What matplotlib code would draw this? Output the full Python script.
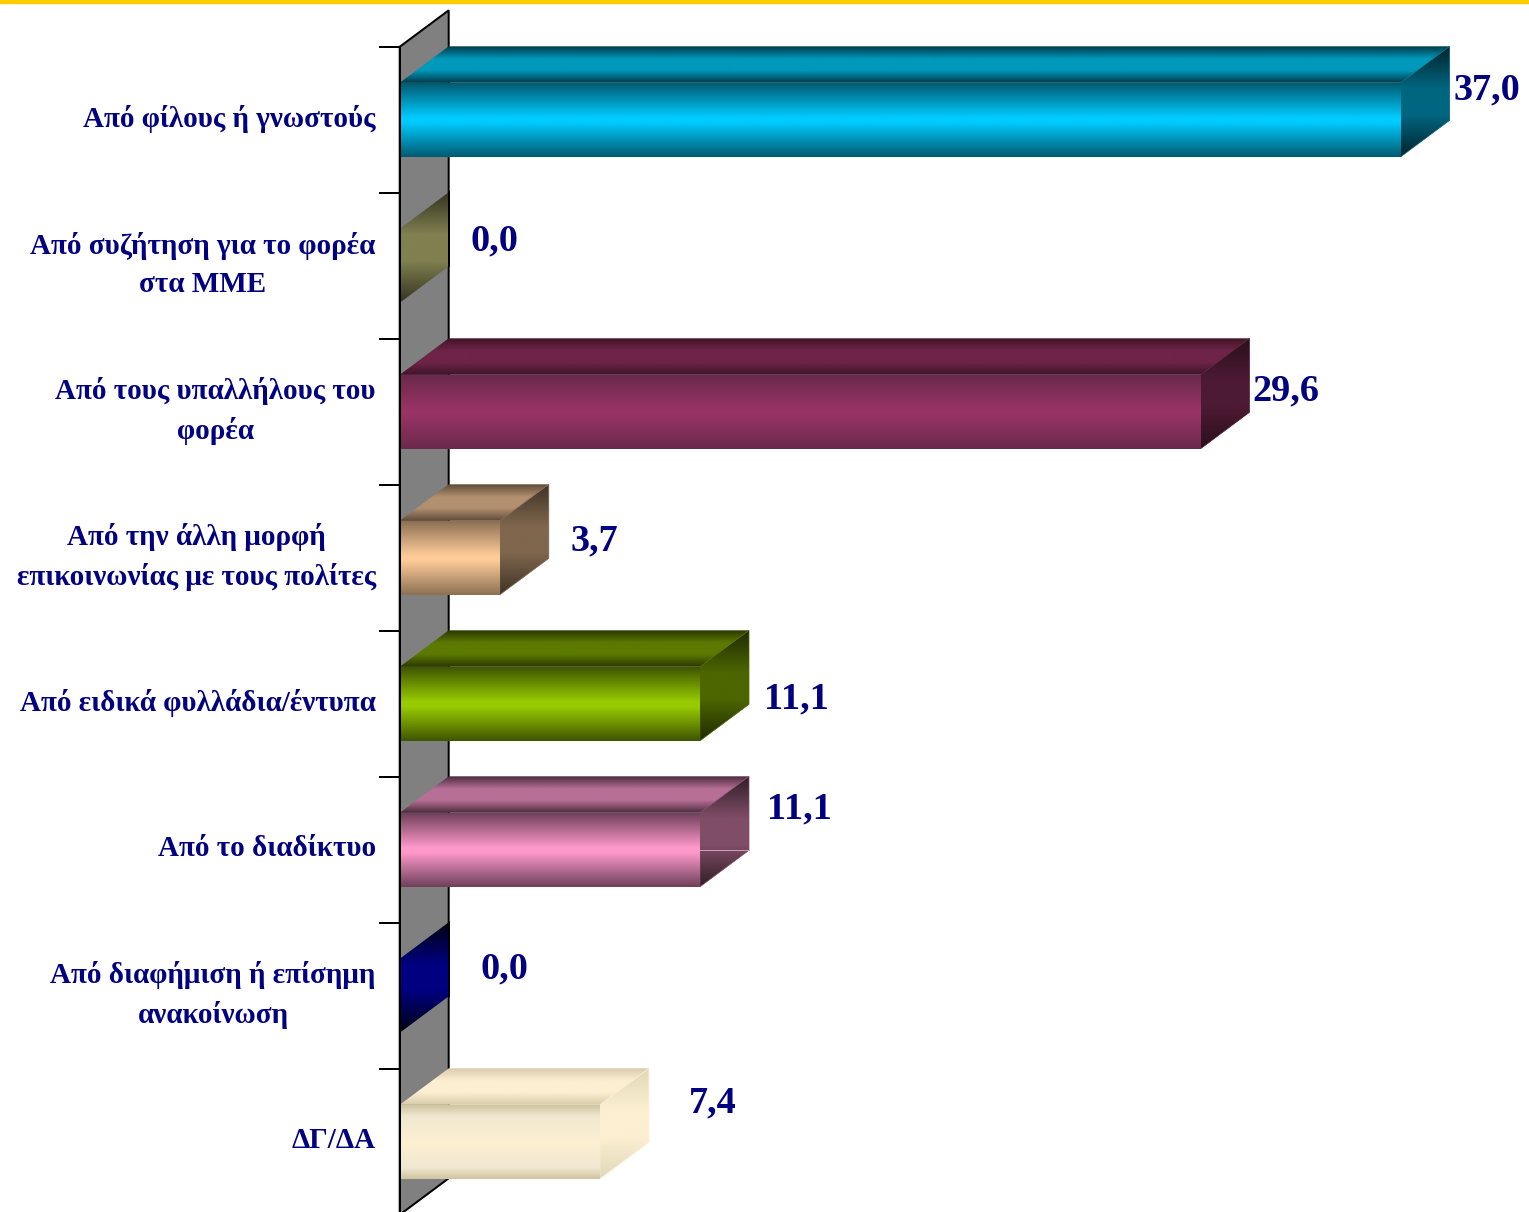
import numpy as np
import matplotlib
matplotlib.use("Agg")
import matplotlib.pyplot as plt
from matplotlib.colors import LinearSegmentedColormap
from matplotlib.patches import Polygon, Rectangle

labels = ["Από φίλους ή γνωστούς",
          "Από συζήτηση για το φορέα\nστα ΜΜΕ",
          "Από τους υπαλλήλους του\nφορέα",
          "Από την άλλη μορφή\nεπικοινωνίας με τους πολίτες",
          "Από ειδικά φυλλάδια/έντυπα",
          "Από το διαδίκτυο",
          "Από διαφήμιση ή επίσημη\nανακοίνωση",
          "ΔΓ/ΔΑ"]
values = [37.0, 0.0, 29.6, 3.7, 11.1, 11.1, 0.0, 7.4]

# (center, edge) colours of the gradient on each face
front_colors = [("#00ccff", "#005a70"), ("#808050", "#333320"), ("#993366", "#6a2a4c"),
                ("#ffcc99", "#8c7053"), ("#99cc00", "#3f5500"), ("#ff99cc", "#6e4059"),
                ("#000080", "#000010"), ("#fdefd2", "#cfc4a0", "#efe8d0")]
top_colors = [("#0099bb", "#003a48"), ("#808050", "#333320"), ("#6e2448", "#3f1428"),
              ("#b29070", "#5e4a38"), ("#5c7a00", "#2a3800"), ("#b86f96", "#4a2b3c"),
              ("#000080", "#000010"), ("#fdefd2", "#d8ccaa")]
side_colors = [("#006680", "#00222b"), ("#808050", "#333320"), ("#4d1a33", "#2a0f1c"),
               ("#7f664d", "#3f3327"), ("#4d6600", "#1f2a00"), ("#804d66", "#301d27"),
               ("#000080", "#000010"), ("#fdefd2", "#e0d8b8")]

# value label offsets from the bar end, in pixels
label_dx = [86.5, 95, 85, 95, 96, 99, 105, 113]
label_dy = [29.8, 24.8, 20.8, 16.8, 4.8, 40.8, 26.8, 38.8]

W, H = 1529, 1212
navy = "#000080"
x0, y0 = 399.7, 119.8   # pixel position of value 0 and of the first row
px_x = 1001 / 37.0      # pixels per unit
px_y = 146.0            # pixels per row
depth_x = 49 / px_x
depth_y = 36.5 / px_y
bar_h = 74 / px_y
pt = 72 / 100

plt.rcParams["font.family"] = ["Liberation Serif", "DejaVu Serif"]
fig = plt.figure(figsize=(W / 100, H / 100), dpi=100)
ax = fig.add_axes([0, 0, 1, 1])
ax.patch.set_alpha(0)


def face(points, colors, zorder, flat=0.0):
    center, edge = colors[0], colors[1]
    if len(colors) == 3:
        # cream bar: fast ramp at the rims then a slow one
        nodes = [(0, edge), (0.15, colors[2]), (0.5, center), (0.85, colors[2]), (1, edge)]
    elif flat > 0:
        nodes = [(0, edge), (0.5 - flat, center), (0.5 + flat, center), (1, edge)]
    else:
        nodes = [(0, edge), (0.5, center), (1, edge)]
    cmap = LinearSegmentedColormap.from_list("f", nodes)
    xs = [p[0] for p in points]
    ys = [p[1] for p in points]
    grad = np.linspace(0, 1, 256).reshape(-1, 1)
    im = ax.imshow(grad, cmap=cmap, aspect="auto", interpolation="bilinear", zorder=zorder,
                   extent=(min(xs), max(xs), max(ys), min(ys)))
    im.set_clip_path(Polygon(points, transform=ax.transData))


n = len(values)
wall = [(0, -0.5), (depth_x, -0.5 - depth_y), (depth_x, n - 0.5 - depth_y), (0, n - 0.5)]
ax.add_patch(Polygon(wall, closed=True, facecolor="#808080", edgecolor="black", linewidth=2 * pt, zorder=1))

for i, v in enumerate(values):
    t, b = i - bar_h / 2, i + bar_h / 2
    side = [(v, t), (v + depth_x, t - depth_y), (v + depth_x, b - depth_y), (v, b)]
    face(side, side_colors[i], 2, flat=0.12)
    if v > 0:
        face([(0, t), (v, t), (v, b), (0, b)], front_colors[i], 3, flat=0.03)
        face([(0, t), (depth_x, t - depth_y), (v + depth_x, t - depth_y), (v, t)], top_colors[i], 2, flat=0.15)
        ax.add_patch(Polygon(side, closed=True, fill=False, edgecolor=side_colors[i][0], linewidth=0.7 * pt, zorder=2.5))
    else:
        # the wall edge stays visible next to an empty bar
        ax.plot([depth_x, depth_x], [t - depth_y, b - depth_y], color="black", lw=2 * pt, zorder=4)
    ax.annotate(f"{v:.1f}".replace(".", ","), xy=(v, i), xytext=(label_dx[i] * pt, label_dy[i] * pt),
                textcoords="offset points", ha="center", va="center", fontsize=27.5,
                fontweight="bold", color=navy, zorder=5)
    ax.annotate(labels[i], xy=(0, i), xytext=(-24 * pt, 0.8 * pt), textcoords="offset points",
                ha="right", va="center", multialignment="center", fontsize=21,
                fontweight="bold", color=navy, linespacing=1.57, zorder=5)

# seam on the side of the pink bar
ax.plot([values[5], values[5] + depth_x], [5, 5], color="#c9a0b8", lw=1 * pt, zorder=4)

ax.set_xlim(-x0 / px_x, (W - x0) / px_x)
ax.set_ylim((H - y0) / px_y, -y0 / px_y)
for s in ["top", "right", "bottom"]:
    ax.spines[s].set_visible(False)
ax.spines["left"].set_position(("data", 0))
ax.spines["left"].set_linewidth(2 * pt)
ax.spines["left"].set_bounds(-0.5, (H - y0) / px_y)
ax.spines["left"].set_zorder(6)
ax.set_xticks([])
ax.set_yticks(np.arange(n) - 0.5)
ax.tick_params(axis="y", length=21 * pt, width=2 * pt, labelleft=False)

fig.add_artist(Rectangle((0, 1 - 3 / H), 1, 3 / H, transform=fig.transFigure, color="#ffcc00"))

fig.savefig("out.png", dpi=100)
